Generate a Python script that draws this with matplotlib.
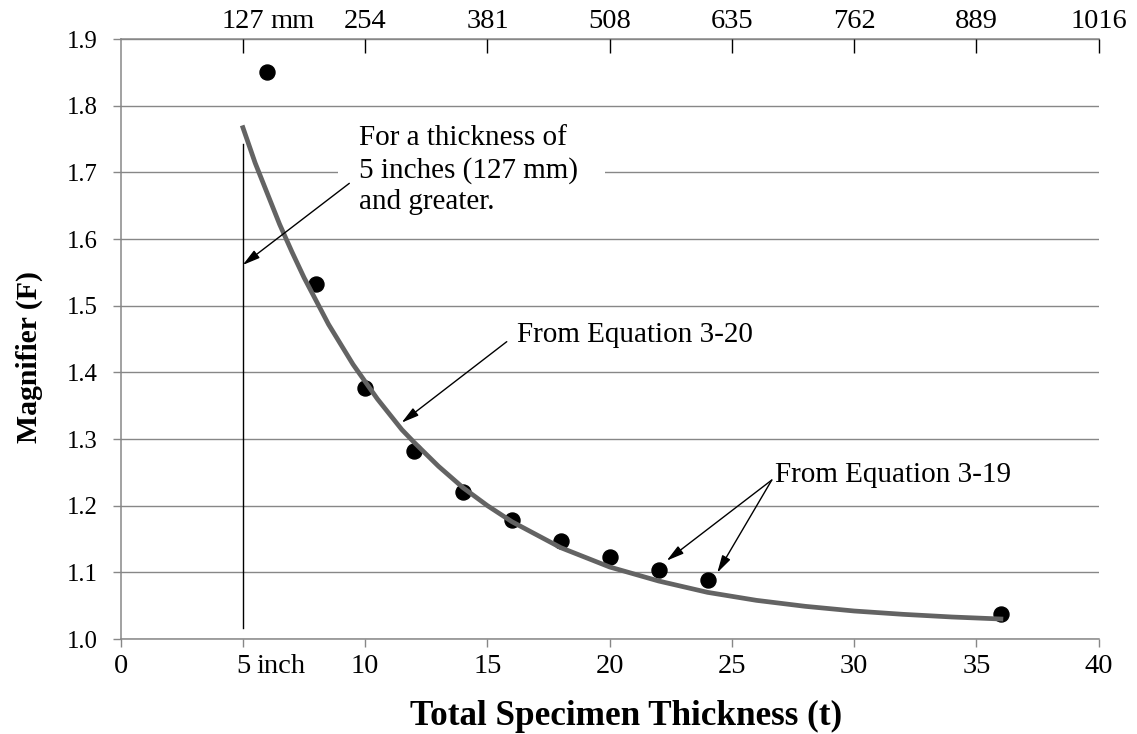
import matplotlib
matplotlib.use("Agg")
import matplotlib.pyplot as plt
from matplotlib.patches import Rectangle
from matplotlib.transforms import blended_transform_factory

# Magnifier F vs total specimen thickness t (inches)
t_pts = [6, 8, 10, 12, 14, 16, 18, 20, 22, 24, 36]
F_pts = [1.850, 1.533, 1.376, 1.282, 1.221, 1.178, 1.147, 1.123, 1.104, 1.089, 1.037]

# Equation 3-20 curve
t_curve = [5, 5.5, 6, 6.5, 7, 7.5, 8, 8.5, 9, 9.5, 10, 10.5, 11, 11.5, 12, 13, 14, 15,
           16, 18, 20, 22, 24, 26, 28, 30, 32, 34, 36]
F_curve = [1.767, 1.714, 1.668, 1.622, 1.581, 1.542, 1.507, 1.472, 1.442, 1.412, 1.386,
           1.360, 1.337, 1.314, 1.295, 1.259, 1.227, 1.200, 1.176, 1.137, 1.108, 1.087,
           1.070, 1.058, 1.049, 1.042, 1.037, 1.033, 1.030]

x_ticks = [0, 5, 10, 15, 20, 25, 30, 35, 40]
x_labels = ["0", "5", "10", "15", "20", "25", "30", "35", "40"]
mm_ticks = [5, 10, 15, 20, 25, 30, 35, 40]
mm_labels = ["127", "254", "381", "508", "635", "762", "889", "1016"]
y_ticks = [1.0, 1.1, 1.2, 1.3, 1.4, 1.5, 1.6, 1.7, 1.8, 1.9]

plt.rcParams['font.family'] = ['Liberation Serif', 'DejaVu Serif']
GRAY = '#878787'
Y_FS = 17.8
X_FS = 20.5
NOTE_FS = 21

fig = plt.figure(figsize=(11.37, 7.34), dpi=100)
ax = fig.add_axes([120.7 / 1137, 1 - 639 / 734, 978 / 1137, 600 / 734])
ax.set_xlim(0, 40)
ax.set_ylim(1.0, 1.9)

# grid + spines
ax.yaxis.grid(True, color=GRAY, lw=1.0)
ax.set_axisbelow(True)
for side in ['left', 'bottom', 'top']:
    ax.spines[side].set_color(GRAY)
    ax.spines[side].set_linewidth(1.1)
ax.spines['right'].set_visible(False)

XLEN, XPAD = 5.8, 5.0
ax.set_xticks(x_ticks)
ax.set_xticklabels(x_labels)
ax.set_yticks(y_ticks)
ax.set_yticklabels([f"{v:.1f}" for v in y_ticks])
ax.tick_params(axis='x', direction='out', length=XLEN, width=1.0, color=GRAY,
               labelsize=X_FS, pad=XPAD)
ax.tick_params(axis='y', direction='out', length=5.8, width=1.0, color=GRAY,
               labelsize=Y_FS, pad=11)

# top mm axis
TPAD = 3.5
top = ax.twiny()
top.set_xlim(0, 40)
top.set_xticks(mm_ticks)
top.set_xticklabels(mm_labels)
top.tick_params(axis='x', direction='in', length=10, width=1.0, color='black',
                labelsize=X_FS, pad=TPAD)
for s in top.spines.values():
    s.set_visible(False)

# unit suffixes next to the first labels
ax.annotate("inch", xy=(5, 0), xycoords=('data', 'axes fraction'),
            xytext=(10, -(XLEN + XPAD)), textcoords='offset points', ha='left', va='top',
            fontsize=X_FS)
ax.annotate("mm", xy=(5, 1), xycoords=('data', 'axes fraction'),
            xytext=(19.5, TPAD), textcoords='offset points', ha='left', va='bottom',
            fontsize=X_FS)

# data and curve
ax.plot(t_pts, F_pts, 'o', color='black', ms=10.8, zorder=3)
ax.plot(t_curve, F_curve, color='#636363', lw=3.4, zorder=4, solid_joinstyle='round')

# 5 inch limit line
ax.plot([5, 5], [1.016, 1.7425], color='black', lw=1.0, zorder=3)

arrow = dict(arrowstyle='-|>,head_length=1.05,head_width=0.28', color='black',
             lw=1.0, shrinkA=0, shrinkB=0)

# white strip hiding the 1.7 gridline behind the note
ax.add_patch(Rectangle((8.9, 1.685), 10.9, 0.03, fc='white', ec='none', zorder=2))
ax.text(9.75, 1.7035, "For a thickness of\n5 inches (127 mm)\nand greater.",
        ha='left', va='center', fontsize=NOTE_FS, linespacing=1.25, zorder=5)
ax.annotate("", xy=(4.99, 1.561), xytext=(9.35, 1.6835), arrowprops=arrow, zorder=6)

ax.text(16.22, 1.456, "From Equation 3-20", ha='left', va='center',
        fontsize=NOTE_FS, zorder=5)
ax.annotate("", xy=(11.49, 1.3245), xytext=(15.79, 1.446), arrowprops=arrow, zorder=6)

ax.text(26.76, 1.2465, "From Equation 3-19", ha='left', va='center',
        fontsize=NOTE_FS, zorder=5)
ax.annotate("", xy=(22.33, 1.1175), xytext=(26.63, 1.2385), arrowprops=arrow, zorder=6)
ax.annotate("", xy=(24.40, 1.0995), xytext=(26.63, 1.2385), arrowprops=arrow, zorder=6)

# axis titles
fig.text(626 / 1137, 1 - 716 / 734, "Total Specimen Thickness (t)", ha='center',
         va='center', fontsize=25.3, fontweight='bold')
fig.text(29 / 1137, 1 - 357 / 734, "Magnifier (F)", ha='center', va='center',
         rotation=90, fontsize=21.4, fontweight='bold')

fig.savefig("out.png", dpi=100)
